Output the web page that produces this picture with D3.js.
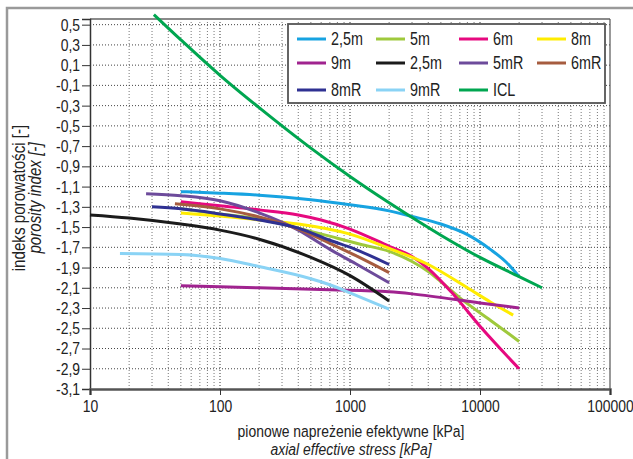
<!DOCTYPE html>
<html>
<head>
<meta charset="utf-8">
<script src="https://cdn.jsdelivr.net/npm/d3@7"></script>
<style>
  body { margin: 0; background: #fff; }
  svg text { font-family: "Liberation Sans", Arial, sans-serif; fill: #222; }
</style>
</head>
<body>
<div id="chart"></div>
<script>
const W = 633, H = 459;
const margin = { top: 19, right: 23, bottom: 70, left: 90 };
const w = W - margin.left - margin.right;
const h = H - margin.top - margin.bottom;
const NARROW = 0.82; // condensed look, like the original font

// tick labels
const xTicks = [10, 100, 1000, 10000, 100000];
const yTicks = [0.5, 0.3, 0.1, -0.1, -0.3, -0.5, -0.7, -0.9, -1.1, -1.3, -1.5, -1.7, -1.9, -2.1, -2.3, -2.5, -2.7, -2.9, -3.1];

// series: [stress kPa, porosity index]
const s25m = [[50, -1.15], [100, -1.165], [200, -1.185], [500, -1.23], [1000, -1.28], [2000, -1.34], [3000, -1.395], [5000, -1.47], [8000, -1.575], [12000, -1.72], [16000, -1.85], [20000, -1.99]];
const s5m = [[50, -1.32], [100, -1.37], [200, -1.42], [400, -1.51], [800, -1.61], [1200, -1.67], [2000, -1.74], [3000, -1.84], [4000, -1.94], [5000, -2.04], [7000, -2.20], [12000, -2.42], [20000, -2.63]];
const s6m = [[50, -1.25], [100, -1.29], [200, -1.33], [400, -1.38], [600, -1.43], [1000, -1.52], [2000, -1.69], [3000, -1.79], [4000, -1.91], [6000, -2.14], [10000, -2.48], [20000, -2.90]];
const s8m = [[50, -1.36], [100, -1.39], [200, -1.43], [400, -1.47], [1000, -1.57], [2000, -1.71], [4000, -1.87], [8000, -2.10], [12000, -2.24], [18000, -2.37]];
const s9m = [[50, -2.08], [100, -2.09], [200, -2.10], [700, -2.12], [2000, -2.14], [3000, -2.16], [10000, -2.25], [20000, -2.30]];
const s25mB = [[10, -1.38], [20, -1.41], [50, -1.47], [100, -1.53], [200, -1.62], [500, -1.80], [1000, -1.98], [2000, -2.23]];
const s5mR = [[27, -1.17], [50, -1.19], [100, -1.24], [200, -1.36], [400, -1.53], [700, -1.72], [1100, -1.86], [2000, -2.05]];
const s6mR = [[45, -1.27], [100, -1.32], [200, -1.40], [400, -1.52], [700, -1.66], [1100, -1.78], [2000, -1.95]];
const s8mR = [[30, -1.30], [50, -1.32], [100, -1.37], [200, -1.43], [400, -1.51], [700, -1.63], [1100, -1.72], [2000, -1.87]];
const s9mR = [[17, -1.76], [50, -1.77], [100, -1.81], [200, -1.89], [500, -2.01], [700, -2.07], [1000, -2.15], [2000, -2.31]];
const sICL = [[31, 0.60], [50, 0.35], [100, 0.0], [200, -0.32], [500, -0.72], [1000, -1.0], [2000, -1.26], [5000, -1.58], [10000, -1.80], [20000, -1.99], [30000, -2.10]];

const names = ["2,5m", "5m", "6m", "8m", "9m", "2,5m", "5mR", "6mR", "8mR", "9mR", "ICL"];
const colors = ["#17a3e1", "#9fc93c", "#e6097f", "#ffec00", "#a0238f", "#1b1b1b", "#6d4b9b", "#a65c3f", "#2f3192", "#8ad3f5", "#00a650"];
const seriesData = [s25m, s5m, s6m, s8m, s9m, s25mB, s5mR, s6mR, s8mR, s9mR, sICL];

const series = names.map((n, i) => ({ name: n, color: colors[i], values: seriesData[i] }));

const svg = d3.select("#chart").append("svg")
  .attr("width", W)
  .attr("height", H);

// outer frame
svg.append("rect")
  .attr("x", 7).attr("y", 8)
  .attr("width", W).attr("height", H)
  .attr("fill", "none")
  .attr("stroke", "#9a9a9a")
  .attr("stroke-width", 2.5);

const g = svg.append("g")
  .attr("transform", "translate(" + margin.left + "," + margin.top + ")");

const xScale = d3.scaleLog().domain([10, 100000]).range([0, w]);
const yScale = d3.scaleLinear().domain([-3.1, 0.556]).range([h, 0]);

// grid
const minor = [];
for (let e = 1; e < 5; e++) {
  for (let k = 1; k < 10; k++) minor.push(k * Math.pow(10, e));
}
g.append("g").selectAll("line")
  .data(minor.filter(v => v > 10))
  .enter().append("line")
  .attr("x1", d => xScale(d)).attr("x2", d => xScale(d))
  .attr("y1", 0).attr("y2", h)
  .attr("stroke", d => xTicks.includes(d) ? "#333" : "#777")
  .attr("stroke-width", 1)
  .attr("stroke-dasharray", "1,2");

g.append("g").selectAll("line")
  .data(yTicks.slice(0, -1))
  .enter().append("line")
  .attr("x1", 0).attr("x2", w)
  .attr("y1", d => yScale(d)).attr("y2", d => yScale(d))
  .attr("stroke", "#444")
  .attr("stroke-width", 1)
  .attr("stroke-dasharray", "1,2");

// top and right border
g.append("line").attr("x1", 0).attr("x2", w).attr("y1", 0).attr("y2", 0)
  .attr("stroke", "#8a8a8a").attr("stroke-width", 2);
g.append("line").attr("x1", w).attr("x2", w).attr("y1", 0).attr("y2", h)
  .attr("stroke", "#555").attr("stroke-width", 1.2);

// axes
const fmt = d => d3.format(".1f")(d).replace(".", ",").replace("\u2212", "-");

const yAxis = g.append("g")
  .call(d3.axisLeft(yScale).tickValues(yTicks).tickSize(8).tickFormat(fmt));
yAxis.select(".domain").attr("stroke", "#333").attr("stroke-width", 1.5);
yAxis.selectAll(".tick line").attr("stroke", "#333");
yAxis.selectAll("text")
  .attr("x", -10 / NARROW)
  .attr("transform", "scale(" + NARROW + ",1)")
  .style("font-size", "17px").attr("fill", "#222");

const xAxis = g.append("g")
  .attr("transform", "translate(0," + h + ")")
  .call(d3.axisBottom(xScale).tickValues(xTicks).tickSize(6).tickFormat(d3.format("d")));
xAxis.select(".domain").attr("stroke", "#555").attr("stroke-width", 2.5);
xAxis.selectAll(".tick line").attr("stroke", "#333");
xAxis.selectAll("text")
  .attr("y", 11)
  .attr("transform", "scale(" + NARROW + ",1)")
  .style("font-size", "17px").attr("fill", "#222");

// lines
const line = d3.line()
  .x(d => xScale(d[0]))
  .y(d => yScale(d[1]))
  .curve(d3.curveMonotoneX);

g.append("g").selectAll("path")
  .data(series)
  .enter().append("path")
  .attr("d", d => line(d.values))
  .attr("fill", "none")
  .attr("stroke", d => d.color)
  .attr("stroke-width", 3);

// axis titles
g.append("text")
  .attr("transform", "translate(" + (w / 2 + 1) + "," + (h + 48) + ") scale(" + NARROW + ",1)")
  .attr("text-anchor", "middle")
  .style("font-size", "17px")
  .text("pionowe napreżenie efektywne [kPa]");
g.append("text")
  .attr("transform", "translate(" + (w / 2 + 1) + "," + (h + 66) + ") scale(" + NARROW + ",1)")
  .attr("text-anchor", "middle")
  .style("font-size", "17px")
  .style("font-style", "italic")
  .text("axial effective stress [kPa]");

const yMid = h / 2 - 6;
g.append("text")
  .attr("transform", "translate(-65," + yMid + ") rotate(-90) scale(" + NARROW + ",1)")
  .attr("text-anchor", "middle")
  .style("font-size", "18.5px")
  .text("indeks porowatości [-]");
g.append("text")
  .attr("transform", "translate(-49," + yMid + ") rotate(-90) scale(" + NARROW + ",1)")
  .attr("text-anchor", "middle")
  .style("font-size", "18.5px")
  .style("font-style", "italic")
  .text("porosity index [-]");

// legend
const lg = g.append("g").attr("transform", "translate(198,5)");
lg.append("rect")
  .attr("width", 317).attr("height", 79)
  .attr("fill", "#fff")
  .attr("stroke", "#555")
  .attr("stroke-width", 1.8);
const colX = [9, 88, 171, 249];
const rowY = [15, 39, 66];
const items = lg.selectAll("g.item")
  .data(series)
  .enter().append("g")
  .attr("class", "item")
  .attr("transform", (d, i) => "translate(" + colX[i % 4] + "," + rowY[Math.floor(i / 4)] + ")");
items.append("line")
  .attr("x1", 0).attr("x2", 29)
  .attr("stroke", d => d.color)
  .attr("stroke-width", 3);
items.append("text")
  .attr("transform", "translate(34,6) scale(" + NARROW + ",1)")
  .style("font-size", "17.5px")
  .text(d => d.name);
</script>
</body>
</html>
